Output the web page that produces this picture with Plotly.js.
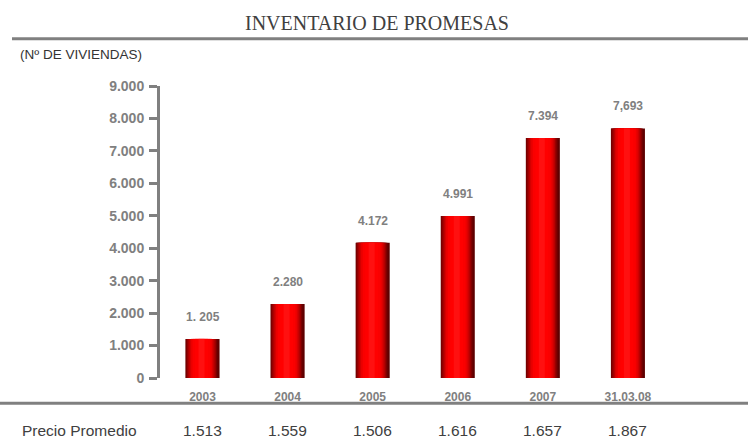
<!DOCTYPE html>
<html>
<head>
<meta charset="utf-8">
<script src="https://cdn.plot.ly/plotly-3.0.1.min.js"></script>
<style>
  html, body { margin: 0; padding: 0; background: #fff; }
  #chart { width: 748px; height: 439px; }
</style>
</head>
<body>
<div id="chart"></div>
<script>
// ---- Data ----
const categories = ['2003', '2004', '2005', '2006', '2007', '31.03.08'];
const viviendas = [1205, 2280, 4172, 4991, 7394, 7693];
const viviendasLabels = ['1. 205', '2.280', '4.172', '4.991', '7.394', '7,693'];
const precioPromedio = [1513, 1559, 1506, 1616, 1657, 1867];
const rowLabel = 'Precio Promedio';
const chartTitle = 'INVENTARIO DE PROMESAS';
const unitLabel = '(Nº DE VIVIENDAS)';

// ---- Layout geometry ----
const W = 748, H = 439;
const M = { l: 160, r: 35, t: 86, b: 61 };
const plotW = W - M.l - M.r, plotH = H - M.t - M.b;
const px2x = px => (px - M.l) / plotW;
const py2y = py => (H - M.b - py) / plotH;

function fmtThousands(n) {
  return String(n).replace(/\B(?=(\d{3})+(?!\d))/g, '.');
}

// Layered bars to imitate the cylindrical red gradient
const layers = [
  { w: 0.40, c: '#5e0000' },
  { w: 0.37, c: '#7a0000' },
  { w: 0.34, c: '#990000' },
  { w: 0.31, c: '#b80000' },
  { w: 0.28, c: '#d40000' },
  { w: 0.25, c: '#ea0000' },
  { w: 0.21, c: '#fa0000' },
  { w: 0.15, c: '#ff0000' },
  { w: 0.07, c: '#ff1010' }
];
const shift = -0.012;
const traces = layers.map(L => ({
  type: 'bar',
  x: categories,
  y: viviendas,
  width: L.w,
  offset: -L.w / 2 + (L.w < 0.40 ? shift : 0),
  marker: { color: L.c, line: { width: 0 } },
  hoverinfo: 'skip',
  showlegend: false
}));

const annotations = [];
// value labels above bars (x given as category index)
categories.forEach((c, i) => {
  annotations.push({
    x: i, y: viviendas[i], xref: 'x', yref: 'y',
    text: viviendasLabels[i], showarrow: false,
    yanchor: 'middle', xanchor: 'center', yshift: 22,
    font: { family: 'Arial, Liberation Sans, sans-serif', size: 12, weight: 'bold', color: '#808080' }
  });
});
// Precio promedio row
categories.forEach((c, i) => {
  annotations.push({
    x: i, y: py2y(430), xref: 'x', yref: 'paper',
    text: fmtThousands(precioPromedio[i]), showarrow: false,
    yanchor: 'middle', xanchor: 'center',
    font: { family: 'Arial, Liberation Sans, sans-serif', size: 15.5, color: '#404040' }
  });
});
annotations.push({
  x: px2x(20), y: py2y(430), xref: 'paper', yref: 'paper',
  text: rowLabel, showarrow: false, xanchor: 'left', yanchor: 'middle',
  font: { family: 'Arial, Liberation Sans, sans-serif', size: 15.5, color: '#404040' }
});
annotations.push({
  x: px2x(18), y: py2y(55), xref: 'paper', yref: 'paper',
  text: unitLabel, showarrow: false, xanchor: 'left', yanchor: 'middle',
  font: { family: 'Arial, Liberation Sans, sans-serif', size: 13.5, color: '#333333' }
});

const shapes = [
  { type: 'line', xref: 'paper', yref: 'paper', x0: px2x(12), x1: px2x(W + 2), y0: py2y(38.7), y1: py2y(38.7),
    line: { color: '#808080', width: 3 } },
  { type: 'line', xref: 'paper', yref: 'paper', x0: px2x(-2), x1: px2x(W + 2), y0: py2y(403.3), y1: py2y(403.3),
    line: { color: '#808080', width: 3 } }
];

const layout = {
  width: W, height: H,
  margin: M,
  paper_bgcolor: '#ffffff', plot_bgcolor: '#ffffff',
  barmode: 'overlay',
  separators: ',.',
  showlegend: false,
  title: {
    text: chartTitle,
    font: { family: 'Liberation Serif, Times New Roman, serif', size: 20, color: '#404040' },
    x: 377 / W, xanchor: 'center', xref: 'container',
    y: 1 - 23 / H, yanchor: 'middle', yref: 'container'
  },
  xaxis: {
    type: 'category',
    range: [-0.5, 6],
    showgrid: false, zeroline: false, showline: false,
    ticks: '', ticklabelstandoff: 10,
    tickfont: { family: 'Arial, Liberation Sans, sans-serif', size: 12, weight: 'bold', color: '#808080' },
    fixedrange: true
  },
  yaxis: {
    range: [0, 9000], dtick: 1000, tick0: 0,
    tickformat: ',d',
    showgrid: false, zeroline: false,
    showline: true, linecolor: '#808080', linewidth: 3,
    ticks: 'outside', ticklen: 8, tickwidth: 3, tickcolor: '#808080',
    ticklabelstandoff: 2,
    tickfont: { family: 'Arial, Liberation Sans, sans-serif', size: 14, weight: 'bold', color: '#808080' },
    fixedrange: true
  },
  annotations: annotations,
  shapes: shapes
};

Plotly.newPlot('chart', traces, layout, { displayModeBar: false, staticPlot: true });
</script>
</body>
</html>
